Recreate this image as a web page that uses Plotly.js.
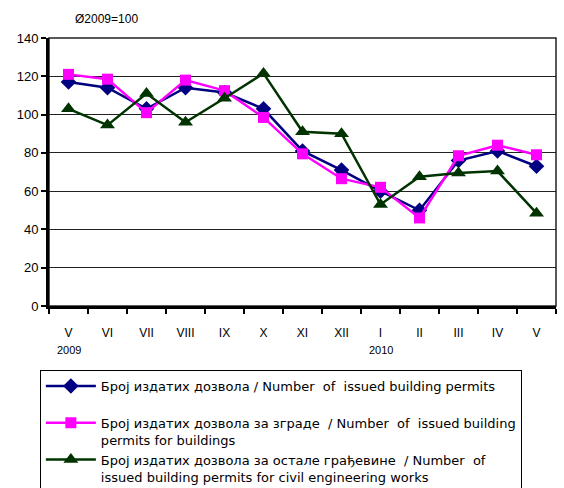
<!DOCTYPE html>
<html><head><meta charset="utf-8">
<script src="https://cdn.plot.ly/plotly-3.0.1.min.js"></script>
<style>html,body{margin:0;padding:0;background:#fff}#chart{width:564px;height:488px}</style>
</head><body><div id="chart"></div>
<script>
const categories = ["V","VI","VII","VIII","IX","X","XI","XII","I","II","III","IV","V "];
const tickLabels = ["V","VI","VII","VIII","IX","X","XI","XII","I","II","III","IV","V"];
const yearCats = ["V","I"];
const yearLabels = ["2009","2010"];
const permitsAll = [117,114,103,114,111.5,103,81,71,60,50,76,81,73];
const permitsBuildings = [121,118.5,101,118,112.5,98.5,79.5,66.5,62,46,78.5,84,79];
const permitsCivil = [103,94.5,111,96,108.5,121.5,91,90,53,67.5,69.5,70.5,48.5];
const names = [
  "Број издатих дозвола / Number\u00a0 of\u00a0 issued building permits<br> ",
  "Број издатих дозвола за зграде\u00a0 / Number\u00a0 of\u00a0 issued building<br>permits for buildings",
  "Број издатих дозвола за остале грађевине\u00a0 / Number\u00a0 of<br>issued building permits for civil engineering works"
];

const traces = [
  {x: categories, y: permitsAll, name: names[0], type: "scatter", mode: "lines+markers",
   line: {color: "#000080", width: 2.5}, marker: {symbol: "diamond", size: 12, color: "#000080"}},
  {x: categories, y: permitsBuildings, name: names[1], type: "scatter", mode: "lines+markers",
   line: {color: "#FF00FF", width: 2.5}, marker: {symbol: "square", size: 11, color: "#FF00FF"}},
  {x: categories, y: permitsCivil, name: names[2], type: "scatter", mode: "lines+markers",
   line: {color: "#003300", width: 2.5}, marker: {symbol: "triangle-up", size: 13, color: "#003300"}}
];

const annotations = [
  {text: "Ø2009=100", xref: "paper", yref: "paper", x: 0.047, y: 1.071, xanchor: "left", yanchor: "middle",
   showarrow: false, font: {family: "Liberation Sans, Arial", size: 12, color: "#000"}}
];
yearCats.forEach((c, i) => annotations.push({
  text: yearLabels[i], xref: "x", yref: "paper", x: c, y: -0.164, xanchor: "center", yanchor: "middle",
  showarrow: false, font: {family: "Liberation Sans, Arial", size: 11, color: "#000"}
}));

const layout = {
  width: 564, height: 488,
  margin: {l: 49, r: 8, t: 38, b: 182, autoexpand: false},
  paper_bgcolor: "#fff", plot_bgcolor: "#fff",
  font: {family: "Liberation Sans, Arial", color: "#000"},
  showlegend: true,
  legend: {x: -0.018, y: -0.239, xanchor: "left", yanchor: "top", bordercolor: "#000", borderwidth: 1,
    bgcolor: "#fff", font: {family: "DejaVu Sans", size: 13, color: "#000"}, valign: "top", itemwidth: 50,
    tracegroupgap: 0, maxheight: 1000},
  xaxis: {type: "category", tickvals: categories, ticktext: tickLabels, tickson: "boundaries",
    ticks: "outside", ticklen: 5, tickwidth: 2, tickcolor: "#000", showline: true, linecolor: "#000", linewidth: 3,
    showgrid: false, zeroline: false, tickfont: {size: 12, color: "#000"}, ticklabelstandoff: 14,
    range: [-0.5, 12.5], fixedrange: true},
  yaxis: {range: [0, 140], dtick: 20, ticks: "outside", ticklen: 5, tickwidth: 2, tickcolor: "#000",
    showline: true, linecolor: "#000", linewidth: 3, showgrid: true, gridcolor: "#222", gridwidth: 1,
    zeroline: false, tickfont: {size: 13, color: "#000"}, fixedrange: true},
  shapes: [{type: "rect", xref: "paper", yref: "paper", x0: 0, x1: 1, y0: 0, y1: 1,
    line: {color: "#222", width: 1.5}, layer: "below"}],
  annotations: annotations
};
Plotly.newPlot("chart", traces, layout, {displayModeBar: false, staticPlot: true});
</script></body></html>
